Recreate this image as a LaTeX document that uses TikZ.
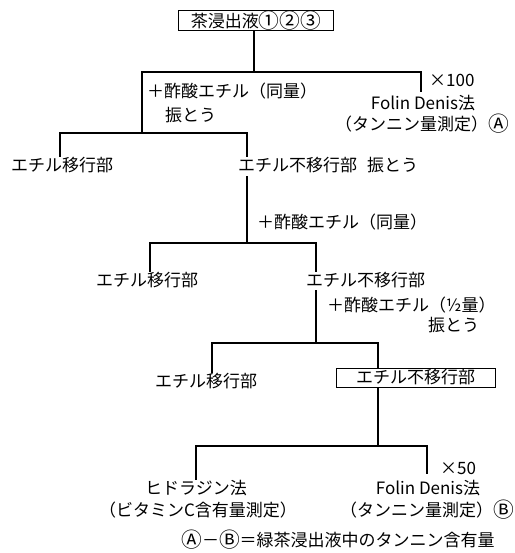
\documentclass[tikz,border=0pt]{standalone}
\usepackage{fontspec}
\setmainfont{Noto Sans CJK JP}
\newcommand\circg[1]{\raisebox{-0.08em}{\scalebox{1.22}{#1}}}
\begin{document}
\begin{tikzpicture}[x=1pt,y=-1pt,
  lbl/.style={inner sep=0pt, font=\fontsize{17}{19}\selectfont},
  boxed/.style={draw, line width=1pt, inner sep=0pt, minimum height=19pt, font=\fontsize{17}{19}\selectfont},
  ln/.style={line width=1.7pt}]
\useasboundingbox (0,0) rectangle (514,553);
% nodes
\node[boxed, minimum width=155pt] (src) at (256,20.5) {茶浸出液\circg{①}\circg{②}\circg{③}};
\node[lbl, anchor=west] (add1) at (147,91) {＋酢酸エチル（同量）};
\node[lbl, anchor=west] (shk1) at (165,115) {振とう};
\node[lbl, anchor=west] (x100) at (429,80) {×100};
\node[lbl] (fd1) at (423,103) {Folin Denis法};
\node[lbl] (tm1) at (422,124) {（タンニン量測定）\circg{Ⓐ}};
\node[lbl] (m1) at (62,165) {エチル移行部};
\node[lbl, anchor=west] (n1) at (238,165) {エチル不移行部\hspace{10pt}振とう};
\node[lbl, anchor=west] (add2) at (257,222) {＋酢酸エチル（同量）};
\node[lbl] (m2) at (147,280) {エチル移行部};
\node[lbl, anchor=west] (n2) at (306,280) {エチル不移行部};
\node[lbl, anchor=west] (add3) at (327,305) {＋酢酸エチル（½量）};
\node[lbl, anchor=west] (shk3) at (428,325) {振とう};
\node[lbl] (m3) at (206,381) {エチル移行部};
\node[boxed, minimum width=159pt] (n3) at (415.5,377.5) {エチル不移行部};
\node[lbl, anchor=west] (x50) at (440,468) {×50};
\node[lbl] (fd2) at (428,488) {Folin Denis法};
\node[lbl] (tm2) at (427,510) {（タンニン量測定）\circg{Ⓑ}};
\node[lbl] (hz) at (196,488) {ヒドラジン法};
\node[lbl] (vc) at (198,510) {（ビタミンC含有量測定）};
\node[lbl] (res) at (338,540) {\circg{Ⓐ}－\circg{Ⓑ}＝緑茶浸出液中のタンニン含有量};
% junction coordinates
\coordinate (a1) at (142,72);
\coordinate (a2) at (421,72);
\coordinate (a3) at (421,92);
\coordinate (b0) at (142,133);
\coordinate (b1) at (60,133);
\coordinate (b2) at (247,133);
\coordinate (c0) at (247,243);
\coordinate (c1) at (150,243);
\coordinate (c2) at (316,243);
\coordinate (d0) at (316,343);
\coordinate (d1) at (212,343);
\coordinate (d2) at (378,343);
\coordinate (e0) at (378,446);
\coordinate (e1) at (196,446);
\coordinate (e2) at (427,446);
% connectors
\draw[ln] (src.south -| 254,0) -- (254,72);
\draw[ln] (a3) -- (a2) -- (a1) -- (b0);
\draw[ln] (m1.north -| b1) -- (b1) -- (b2) -- (n1.north -| b2);
\draw[ln] ([yshift=-3pt]n1.south -| b2) -- (c0);
\draw[ln] (m2.north -| c1) -- (c1) -- (c2) -- (n2.north -| c2);
\draw[ln] ([yshift=-2pt]n2.south -| c2) -- (d0);
\draw[ln] (m3.north -| d1) -- (d1) -- (d2) -- (n3.north -| d2);
\draw[ln] (n3.south -| e0) -- (e0);
\draw[ln] (hz.north -| e1) -- (e1) -- (e2) -- (x50.south -| e2);
\end{tikzpicture}
\end{document}
